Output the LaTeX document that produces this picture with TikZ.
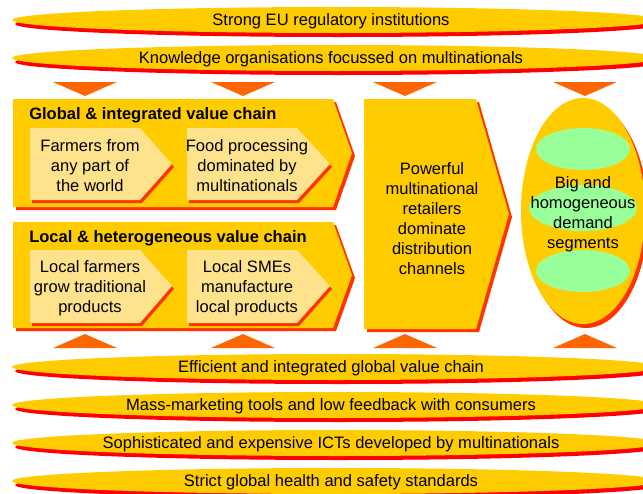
\documentclass[tikz,border=0pt]{standalone}
\usepackage{fontspec}
\setmainfont{Liberation Sans}
\definecolor{gold}{HTML}{FFCC00}
\definecolor{paleyellow}{HTML}{FFE38C}
\definecolor{bandred}{HTML}{FF0000}
\definecolor{chevred}{HTML}{FF3300}
\definecolor{arroworange}{HTML}{FF6600}
\definecolor{segmentgreen}{HTML}{99FF99}
\begin{document}
\begin{tikzpicture}[x=0.75pt, y=-0.75pt,
		band/.style = {fill=gold},
		bandshadow/.style = {fill=bandred},
		chev/.style = {fill=gold},
		chevshadow/.style = {fill=chevred},
		inner/.style = {fill=paleyellow},
		tri/.style = {fill=arroworange},
		lbl/.style = {align=center, inner sep=0pt, font=\fontsize{12.4}{15}\selectfont},
		chaintitle/.style = {anchor=west, inner sep=0pt, font=\fontsize{12.4}{15}\selectfont\bfseries}]
			
			\useasboundingbox (0,0) rectangle (643,493);
			\clip (0,0) rectangle (643,493);
			
			\fill[bandshadow] (339,24) ellipse [x radius=324, y radius=13];
			\fill[band] (336,20) ellipse [x radius=324, y radius=13];
			\fill[bandshadow] (339,62) ellipse [x radius=324, y radius=13];
			\fill[band] (336,58) ellipse [x radius=324, y radius=13];
			
			\fill[bandshadow] (339,371) ellipse [x radius=324, y radius=13];
			\fill[band] (336,367) ellipse [x radius=324, y radius=13];
			\fill[bandshadow] (339,409) ellipse [x radius=324, y radius=13];
			\fill[band] (336,405) ellipse [x radius=324, y radius=13];
			\fill[bandshadow] (339,447) ellipse [x radius=324, y radius=13];
			\fill[band] (336,443) ellipse [x radius=324, y radius=13];
			\fill[bandshadow] (339,485) ellipse [x radius=324, y radius=13];
			\fill[band] (336,481) ellipse [x radius=324, y radius=13];
			
			
			\fill[tri] (53,82) -- (117,82) -- (85,96) -- cycle;
			\fill[tri] (211,82) -- (275,82) -- (243,96) -- cycle;
			\fill[tri] (373,82) -- (437,82) -- (405,96) -- cycle;
			\fill[tri] (553,82) -- (617,82) -- (585,96) -- cycle;
			
			\fill[tri] (53,348) -- (117,348) -- (85,334) -- cycle;
			\fill[tri] (211,348) -- (275,348) -- (243,334) -- cycle;
			\fill[tri] (373,348) -- (437,348) -- (405,334) -- cycle;
			\fill[tri] (553,348) -- (617,348) -- (585,334) -- cycle;
			
			
			\fill[chevshadow] (16,102) -- (336,102) -- (355,156) -- (336,210) -- (16,210) -- cycle;
			\fill[chev] (13,99) -- (333,99) -- (352,153) -- (333,207) -- (13,207) -- cycle;
			\fill[chevshadow] (32,131) -- (142,131) -- (174,167) -- (142,203) -- (32,203) -- cycle;
			\fill[inner] (30,128) -- (140,128) -- (172,164) -- (140,200) -- (30,200) -- cycle;
			\fill[chevshadow] (189,131) -- (299,131) -- (332,167) -- (299,203) -- (189,203) -- cycle;
			\fill[inner] (187,128) -- (297,128) -- (330,164) -- (297,200) -- (187,200) -- cycle;
			
			\fill[chevshadow] (16,225) -- (336,225) -- (355,278) -- (336,331) -- (16,331) -- cycle;
			\fill[chev] (13,222) -- (333,222) -- (352,275) -- (333,328) -- (13,328) -- cycle;
			\fill[chevshadow] (32,253) -- (142,253) -- (174,289) -- (142,326) -- (32,326) -- cycle;
			\fill[inner] (30,250) -- (140,250) -- (172,286) -- (140,323) -- (30,323) -- cycle;
			\fill[chevshadow] (189,253) -- (299,253) -- (332,289) -- (299,326) -- (189,326) -- cycle;
			\fill[inner] (187,250) -- (297,250) -- (330,286) -- (297,323) -- (187,323) -- cycle;
			
			\fill[chevshadow] (367,102) -- (479,102) -- (512,217) -- (479,332) -- (367,332) -- cycle;
			\fill[chev] (364,99) -- (476,99) -- (509,214) -- (476,329) -- (364,329) -- cycle;
			
			\fill[chevshadow] (586,215) ellipse [x radius=62, y radius=113];
			\fill[chev] (583,211) ellipse [x radius=62, y radius=113];
			\fill[segmentgreen] (583,149) ellipse [x radius=47, y radius=21];
			\fill[segmentgreen] (583,208) ellipse [x radius=54, y radius=23];
			\fill[segmentgreen] (583,271) ellipse [x radius=47, y radius=21];
			
			
			\node[lbl] (eu) at (331,21) {Strong EU regulatory institutions};
			\node[lbl] (knowledge) at (331,59) {Knowledge organisations focussed on multinationals};
			
			\node[chaintitle] (globaltitle) at (29,115) {Global \& integrated value chain};
			\node[lbl] (farmers) at (90,166) {Farmers from\\any part of\\the world};
			\node[lbl] (processing) at (247,166) {Food processing\\dominated by\\multinationals};
			
			\node[chaintitle] (localtitle) at (29,238) {Local \& heterogeneous value chain};
			\node[lbl] (localfarmers) at (90,288) {Local farmers\\grow traditional\\products};
			\node[lbl] (smes) at (247,288) {Local SMEs\\manufacture\\local products};
			
			\node[lbl] (retailers) at (432,219) {Powerful\\multinational\\retailers\\dominate\\distribution\\channels};
			\node[lbl] (demand) at (583,214) {Big and\\homogeneous\\demand\\segments};
			
			\node[lbl] (efficient) at (331,368) {Efficient and integrated global value chain};
			\node[lbl] (massmarketing) at (331,406) {Mass-marketing tools and low feedback with consumers};
			\node[lbl] (icts) at (331,444) {Sophisticated and expensive ICTs developed by multinationals};
			\node[lbl] (standards) at (331,482) {Strict global health and safety standards};
			
		\end{tikzpicture}
\end{document}
